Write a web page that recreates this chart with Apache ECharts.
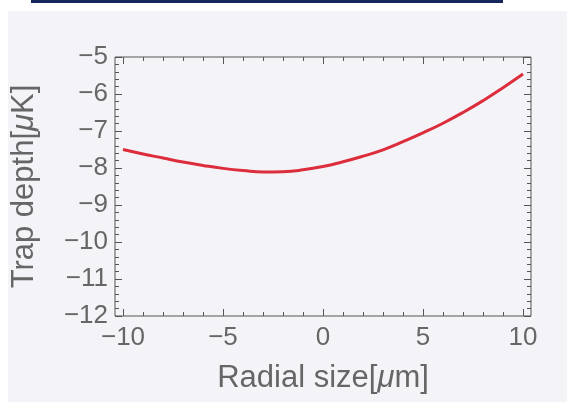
<!DOCTYPE html>
<html>
<head>
<meta charset="utf-8">
<script src="https://cdn.jsdelivr.net/npm/echarts@6/dist/echarts.min.js"></script>
<style>
  html, body { margin: 0; padding: 0; background: #ffffff; }
  #chart { width: 573px; height: 402px; }
</style>
</head>
<body>
<div id="chart"></div>
<script>
  // radial size (um) and trap depth (uK)
  var radialSize = [-10, -9, -8, -7, -6, -5, -4, -3, -2, -1, 0, 1, 2, 3, 4, 5, 6, 7, 8, 9, 10];
  var trapDepth = [-7.50, -7.62, -7.73, -7.84, -7.93, -8.01, -8.07, -8.11, -8.10, -8.05, -7.96,
                   -7.83, -7.68, -7.51, -7.29, -7.05, -6.79, -6.50, -6.18, -5.83, -5.46];
  var xTicks = [-10, -5, 0, 5, 10];
  var yTicks = [-12, -11, -10, -9, -8, -7, -6, -5];

  var chart = echarts.init(document.getElementById('chart'));
  var font = 'Liberation Sans, Arial, sans-serif';
  var grey = '#666666';
  var frame = '#555555';

  function minus(v) {
    return String(v).replace('-', '\u2212');
  }

  var seriesData = [];
  for (var i = 0; i < radialSize.length; i++) {
    seriesData.push([radialSize[i], trapDepth[i]]);
  }

  var tickBase = {
    axisLine: { show: false },
    axisTick: { show: true, inside: true, length: 7, lineStyle: { color: frame } },
    minorTick: { show: true, splitNumber: 5, length: 4, lineStyle: { color: frame } },
    splitLine: { show: false },
    minorSplitLine: { show: false }
  };

  var option = {
    backgroundColor: '#ffffff',
    animation: false,
    graphic: [
      { type: 'rect', shape: { x: 8, y: 11, width: 559, height: 391 }, style: { fill: '#f4f4f8' }, z: -10 },
      { type: 'rect', shape: { x: 31, y: 0, width: 472, height: 3 }, style: { fill: '#16265a' }, z: -10 }
    ],
    grid: [
      // frame grid (wider, like the plot range padding)
      { left: 115, top: 57, width: 416, height: 259, show: true, borderColor: frame, borderWidth: 1, backgroundColor: 'transparent' },
      // data grid
      { left: 123, top: 57, width: 400, height: 259 }
    ],
    xAxis: [
      Object.assign({
        gridIndex: 1, type: 'value', position: 'bottom',
        min: xTicks[0], max: xTicks[xTicks.length - 1], interval: 5,
        name: 'Radial size[{i|\u03bc}m]', nameLocation: 'middle', nameGap: 47,
        nameTextStyle: {
          color: grey, fontFamily: font, fontSize: 31,
          rich: { i: { fontStyle: 'italic', color: grey, fontFamily: font, fontSize: 31 } }
        },
        axisLabel: { color: grey, fontFamily: font, fontSize: 26, margin: 9, formatter: minus }
      }, tickBase),
      Object.assign({
        gridIndex: 1, type: 'value', position: 'top',
        min: xTicks[0], max: xTicks[xTicks.length - 1], interval: 5,
        axisLabel: { show: false }
      }, tickBase),
      { gridIndex: 0, type: 'value', min: 0, max: 1, show: false }
    ],
    yAxis: [
      { gridIndex: 1, type: 'value', min: yTicks[0], max: yTicks[yTicks.length - 1], show: false },
      Object.assign({
        gridIndex: 0, type: 'value', position: 'left',
        min: yTicks[0], max: yTicks[yTicks.length - 1], interval: 1,
        name: 'Trap depth[{i|\u03bc}K]', nameLocation: 'middle', nameGap: 75, nameRotate: 90,
        nameTextStyle: {
          color: grey, fontFamily: font, fontSize: 31,
          rich: { i: { fontStyle: 'italic', color: grey, fontFamily: font, fontSize: 31 } }
        },
        axisLabel: { color: grey, fontFamily: font, fontSize: 26, margin: 7, formatter: minus }
      }, tickBase),
      Object.assign({
        gridIndex: 0, type: 'value', position: 'right',
        min: yTicks[0], max: yTicks[yTicks.length - 1], interval: 1,
        axisLabel: { show: false }
      }, tickBase)
    ],
    series: [{
      type: 'line',
      xAxisIndex: 0,
      yAxisIndex: 0,
      data: seriesData,
      smooth: true,
      showSymbol: false,
      lineStyle: { color: '#dc2d3c', width: 3 }
    }]
  };

  chart.setOption(option);
</script>
</body>
</html>
